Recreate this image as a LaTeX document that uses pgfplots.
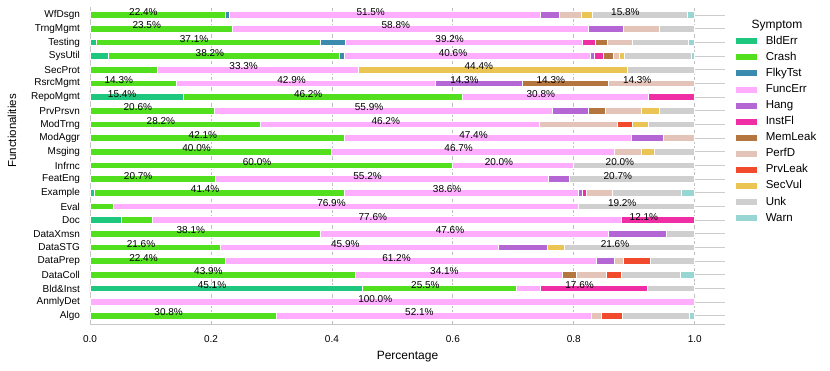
\documentclass[border=0pt]{standalone}
\usepackage{pgfplots}
\pgfplotsset{compat=1.18}
\usepackage{pgfplotstable}
\usepackage{fontspec}
\setmainfont{Liberation Sans}

\definecolor{cBldErr}{HTML}{1DC77E}
\definecolor{cCrash}{HTML}{52E01E}
\definecolor{cFlkyTst}{HTML}{3A8BAE}
\definecolor{cFuncErr}{HTML}{FFAEFF}
\definecolor{cHang}{HTML}{B466D4}
\definecolor{cInstFl}{HTML}{EF2EA6}
\definecolor{cMemLeak}{HTML}{B5753F}
\definecolor{cPerfD}{HTML}{E4C4B8}
\definecolor{cPrvLeak}{HTML}{F24A2C}
\definecolor{cSecVul}{HTML}{EAC553}
\definecolor{cUnk}{HTML}{CFCFCF}
\definecolor{cWarn}{HTML}{97D6D2}

% share of each symptom per functionality (rows top to bottom: WfDsgn ... Algo)
\pgfplotstableread{
y  BldErr Crash FlkyTst FuncErr Hang InstFl MemLeak PerfD PrvLeak SecVul Unk Warn
22 0     .2242 .0061 .5152 .0303 0     0     .0364 0     .0182 .1576 .0121
21 0     .2353 0     .5882 .0588 0     0     .0588 0     0     .0589 0
20 .0103 .3711 .0412 .3918 0     .0206 .0206 .0412 0     0     .0928 .0104
19 .031  .382  .008  .406  .007  .015  .017  .009  0     .009  .111  .005
18 0     .1111 0     .3333 0     0     0     0     0     .4444 .1112 0
17 0     .1429 0     .4286 .1429 0     .1428 .1428 0     0     0     0
16 .1538 .4615 0     .3077 0     .0770 0     0     0     0     0     0
15 0     .2059 0     .5588 .0588 0     .0294 .0588 0     .0294 .0589 0
14 0     .2821 0     .4615 0     0     0     .1282 .0256 .0256 .0770 0
13 0     .4211 0     .4737 .0526 0     0     .0526 0     0     0     0
12 0     .4    0     .4667 0     0     0     .0444 0     .0222 .0667 0
11 0     .6    0     .2    0     0     0     0     0     0     .2    0
10 0     .2069 0     .5517 .0345 0     0     0     0     0     .2069 0
9  .0071 .4143 0     .3857 .0071 .0071 0     .0429 0     0     .1143 .0215
8  0     .0385 0     .7692 0     0     0     0     0     0     .1923 0
7  .0517 .0517 0     .7759 0     .1207 0     0     0     0     0     0
6  0     .3810 0     .4762 .0952 0     0     0     0     0     .0476 0
5  0     .2162 0     .4595 .0811 0     0     0     0     .0270 .2162 0
4  0     .2245 0     .6122 .030  0     0     .016  .044  0     .0733 0
3  0     .4390 0     .3415 0     0     .0244 .0488 .0244 0     .0976 .0243
2  .4510 .2549 0     .0392 0     .1765 0     0     0     0     .0784 0
1  0     0     0     1     0     0     0     0     0     0     0     0
0  0     .3077 0     .5214 0     0     0     .0171 .0342 0     .1111 .0085
}\data

% percentage labels: x = centre of the segment, text right-aligned there
\pgfplotstableread{
x     y  t
.1121 22 22.4
.4879 22 51.5
.9091 22 15.8
.1176 21 23.5
.5294 21 58.8
.1959 20 37.1
.6185 20 39.2
.222  19 38.2
.624  19 40.6
.2778 18 33.3
.6667 18 44.4
.0714 17 14.3
.3571 17 42.9
.6429 17 14.3
.7857 17 14.3
.9286 17 14.3
.0769 16 15.4
.3846 16 46.2
.7692 16 30.8
.1029 15 20.6
.4853 15 55.9
.1410 14 28.2
.5128 14 46.2
.2105 13 42.1
.6579 13 47.4
.2    12 40.0
.6333 12 46.7
.3    11 60.0
.7    11 20.0
.9    11 20.0
.1034 10 20.7
.4828 10 55.2
.8966 10 20.7
.2142 9  41.4
.6143 9  38.6
.4231 8  76.9
.9038 8  19.2
.4914 7  77.6
.9397 7  12.1
.1905 6  38.1
.6190 6  47.6
.1081 5  21.6
.4459 5  45.9
.8919 5  21.6
.1122 4  22.4
.5306 4  61.2
.2195 3  43.9
.6098 3  34.1
.2255 2  45.1
.5784 2  25.5
.8333 2  17.6
.5    1  100.0
.1538 0  30.8
.5684 0  52.1
}\labels

\begin{document}
\begin{tikzpicture}
\path[use as bounding box] (-90pt,-46pt) rectangle (740pt,324pt);
\begin{axis}[
    scale only axis,
    width=635pt, height=317pt,
    xbar stacked,
    bar width=0.5,
    xmin=0, xmax=1.05,
    ymin=-0.6, ymax=22.6,
    axis x line*=bottom,
    axis y line*=left,
    axis line style={draw=black!22, line width=0.9pt},
    major tick length=0pt,
    tick style={draw=none},
    xtick={0,0.2,0.4,0.6,0.8,1.0},
    xticklabels={0.0,0.2,0.4,0.6,0.8,1.0},
    ytick={0,...,22},
    yticklabels={Algo,AnmlyDet,Bld\&Inst,DataColl,DataPrep,DataSTG,DataXmsn,Doc,Eval,Example,FeatEng,Infrnc,Msging,ModAggr,ModTrng,PrvPrsvn,RepoMgmt,RsrcMgmt,SecProt,SysUtil,Testing,TrngMgmt,WfDsgn},
    ticklabel style={font=\fontsize{10}{12}\selectfont},
    yticklabel style={xshift=-6.5pt},
    xticklabel style={yshift=-7.5pt},
    xmajorgrids, ymajorgrids,
    x grid style={draw=black!25, line width=0.8pt, dash pattern=on 3.5pt off 1.8pt},
    y grid style={draw=black!20, line width=0.8pt},
    xlabel={Percentage},
    ylabel={Functionalities},
    xlabel style={font=\fontsize{12}{14}\selectfont, at={(axis description cs:0.5,-0.102)}, anchor=center},
    ylabel style={font=\fontsize{11.5}{14}\selectfont, at={(axis description cs:-0.123,0.609)}, anchor=center},
    every axis plot/.append style={draw=white, line width=0.9pt},
    legend image code/.code={\path[#1,draw=none] (0pt,-3pt) rectangle (21pt,3pt);},
    legend style={draw=none, fill=none, inner sep=0pt, outer sep=0pt,
        at={(axis description cs:1.017,0.91)}, anchor=north west,
        font=\fontsize{11.5}{13}\selectfont,
        nodes={inner sep=1pt, text height=7.5pt, text depth=2pt},
        row sep=4.6pt},
    legend cell align=left,
    /tikz/every odd column/.append style={column sep=8pt},
]
\addplot[fill=cBldErr]  table[x=BldErr,  y=y] {\data}; \addlegendentry{BldErr}
\addplot[fill=cCrash]   table[x=Crash,   y=y] {\data}; \addlegendentry{Crash}
\addplot[fill=cFlkyTst] table[x=FlkyTst, y=y] {\data}; \addlegendentry{FlkyTst}
\addplot[fill=cFuncErr] table[x=FuncErr, y=y] {\data}; \addlegendentry{FuncErr}
\addplot[fill=cHang]    table[x=Hang,    y=y] {\data}; \addlegendentry{Hang}
\addplot[fill=cInstFl]  table[x=InstFl,  y=y] {\data}; \addlegendentry{InstFl}
\addplot[fill=cMemLeak] table[x=MemLeak, y=y] {\data}; \addlegendentry{MemLeak}
\addplot[fill=cPerfD]   table[x=PerfD,   y=y] {\data}; \addlegendentry{PerfD}
\addplot[fill=cPrvLeak] table[x=PrvLeak, y=y] {\data}; \addlegendentry{PrvLeak}
\addplot[fill=cSecVul]  table[x=SecVul,  y=y] {\data}; \addlegendentry{SecVul}
\addplot[fill=cUnk]     table[x=Unk,     y=y] {\data}; \addlegendentry{Unk}
\addplot[fill=cWarn]    table[x=Warn,    y=y] {\data}; \addlegendentry{Warn}
\end{axis}

% same frame again, only for the text on top of the bars
\begin{axis}[
    scale only axis,
    width=635pt, height=317pt,
    xmin=0, xmax=1.05,
    ymin=-0.6, ymax=22.6,
    hide axis, clip=false,
]
\addplot[only marks, mark=none, draw=none,
    point meta=explicit symbolic,
    nodes near coords={\pgfplotspointmeta\%},
    every node near coord/.append style={anchor=base east, inner sep=0pt, font=\fontsize{10}{12}\selectfont, text=black},
] table[x=x, y=y, meta=t] {\labels};
\end{axis}
\node[font=\fontsize{12}{14}\selectfont] at (687pt,298pt) {Symptom};
\end{tikzpicture}
\end{document}
